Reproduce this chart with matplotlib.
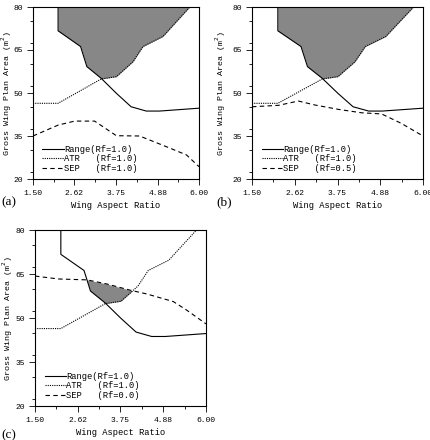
import numpy as np
import matplotlib
matplotlib.use("Agg")
import matplotlib.pyplot as plt
from matplotlib.ticker import MultipleLocator, FixedLocator

# wing aspect ratio vs gross wing plan area
range_x = [2.18, 2.18, 2.79, 2.96, 3.35, 3.76, 4.16, 4.57, 4.93, 6.00]
range_y = [80.0, 71.7, 66.2, 59.2, 55.1, 49.9, 45.2, 43.7, 43.7, 44.7]

atr_x = [1.50, 2.18, 3.35, 3.76, 4.21, 4.48, 5.02, 5.75, 6.00]
atr_y = [46.4, 46.4, 54.9, 55.7, 60.9, 66.2, 69.7, 80.0, 82.5]

sep_a_x = [1.50, 2.18, 2.63, 3.17, 3.76, 4.39, 5.11, 5.66, 6.00]
sep_a_y = [35.0, 38.8, 40.2, 40.2, 35.1, 35.0, 31.3, 28.4, 24.3]

sep_b_x = [1.50, 2.20, 2.72, 3.16, 3.77, 4.38, 4.91, 5.43, 6.00]
sep_b_y = [45.2, 45.7, 47.2, 45.8, 44.3, 43.1, 42.7, 39.4, 35.0]

sep_c_x = [1.50, 2.12, 2.87, 3.39, 4.00, 4.44, 5.14, 5.49, 6.00]
sep_c_y = [64.3, 63.3, 63.0, 61.6, 59.5, 58.2, 55.6, 52.7, 48.0]

panels = ["(a)", "(b)", "(c)"]
sep_rf = ["1.0", "0.5", "0.0"]
x_ticks = [1.50, 2.62, 3.75, 4.88, 6.00]
y_ticks = [20, 35, 50, 65, 80]

mono = "Liberation Mono"
W, H = 431, 440
fig = plt.figure(figsize=(W / 100, H / 100), dpi=100)

# pixel boxes: left, right, top, bottom
boxes = [(33, 199, 7, 179), (252, 423, 7, 179), (35, 206, 230, 406)]
ylab_right = [14, 228, 15]
seps = [(sep_a_x, sep_a_y), (sep_b_x, sep_b_y), (sep_c_x, sep_c_y)]
tags = [(1, 208), (216, 208), (1, 441)]

for i in range(3):
    l, r, t, b = boxes[i]
    ax = fig.add_axes([l / W, (H - b) / H, (r - l) / W, (b - t) / H])
    sx, sy = seps[i]

    # feasible region: above Range and ATR, below 80 (and below SEP in c)
    grid = np.linspace(range_x[1], 6.0, 600)
    lo = np.maximum(np.interp(grid, range_x[1:], range_y[1:]),
                    np.interp(grid, atr_x, atr_y))
    hi = np.full_like(grid, 80.0)
    if i == 2:
        hi = np.minimum(hi, np.interp(grid, sx, sy))
    ax.fill_between(grid, lo, hi, where=hi > lo, color="#878787",
                    linewidth=0, interpolate=True)

    ax.plot(range_x, range_y, color="black", lw=0.8, label="Range(Rf=1.0)")
    ax.plot(atr_x, atr_y, color="black", lw=0.8, ls=(0, (1, 1)),
            label="ATR   (Rf=1.0)")
    ax.plot(sx, sy, color="black", lw=0.8, ls=(0, (4, 3)),
            label="SEP   (Rf=%s)" % sep_rf[i])

    ax.set_xlim(1.5, 6.0)
    ax.set_ylim(20, 80)
    ax.xaxis.set_major_locator(FixedLocator(x_ticks))
    ax.set_xticklabels(["%.2f" % v for v in x_ticks])
    ax.xaxis.set_minor_locator(FixedLocator(
        [(x_ticks[k] + x_ticks[k + 1]) / 2 for k in range(4)]))
    ax.yaxis.set_major_locator(FixedLocator(y_ticks))
    ax.yaxis.set_minor_locator(MultipleLocator(7.5))
    ax.tick_params(which="major", length=4, width=0.6, labelsize=5.8, pad=4)
    ax.tick_params(axis="y", which="major", pad=3)
    ax.tick_params(which="minor", length=2, width=0.6)
    for lab in ax.get_xticklabels() + ax.get_yticklabels():
        lab.set_fontfamily(mono)
    for s in ax.spines.values():
        s.set_linewidth(0.8)

    ax.set_xlabel("Wing Aspect Ratio", fontfamily=mono, fontsize=6.3,
                  labelpad=3)
    ax.set_ylabel("Gross Wing Plan Area (m$^2$)", fontfamily=mono,
                  fontsize=6.0)
    ax.yaxis.set_label_coords((ylab_right[i] - l) / (r - l), 0.5)

    ax.legend(loc="lower left", bbox_to_anchor=(0.02, 0.0), frameon=False,
              prop={"family": mono, "size": 6.3}, handlelength=2.5,
              handletextpad=0.0, labelspacing=0.05, borderaxespad=0.3)

    fig.text(tags[i][0] / W, 1 - tags[i][1] / H, panels[i],
             fontfamily="Liberation Serif", fontsize=9.5, va="bottom")

fig.savefig("out.png", dpi=100)
